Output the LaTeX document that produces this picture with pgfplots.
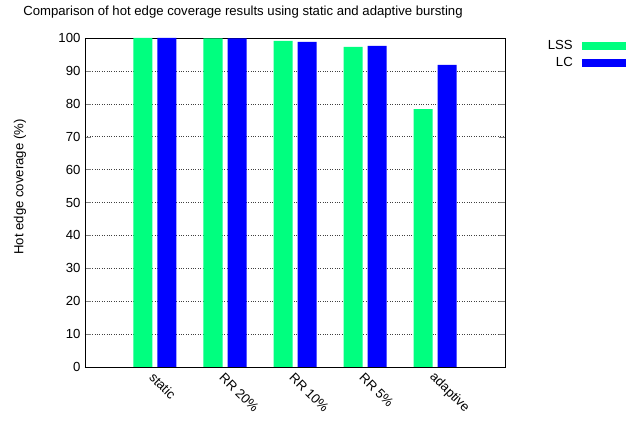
\documentclass[border=0pt]{standalone}
\usepackage{fontspec}
\setmainfont{Liberation Sans}
\usepackage{pgfplots}
\pgfplotsset{compat=1.18}
\definecolor{lssgreen}{RGB}{0,255,127}
\definecolor{lcblue}{RGB}{0,0,255}
\newcommand{\fs}{\fontsize{13.2}{15}\selectfont}
\begin{document}
\fs
\begin{tikzpicture}
\path[use as bounding box] (-85bp,-56bp) rectangle (549bp,367bp);
\begin{axis}[
  at={(0,0)}, anchor=south west,
  scale only axis, width=420bp, height=329bp,
  xmin=0, xmax=6, ymin=0, ymax=100,
  ybar=5bp, bar width=19bp,
  xtick={1,2,3,4,5},
  xticklabels={static,RR 20\%,RR 10\%,RR 5\%,adaptive},
  xticklabel style={rotate=-45, anchor=west, font=\fs, xshift=-1bp, yshift=-8bp},
  major x tick style={draw=none},
  ytick={0,10,...,100},
  yticklabel style={font=\fs},
  /pgf/number format/assume math mode=true,
  tick align=inside, major tick length=6bp,
  ymajorgrids, grid style={black!75, dash pattern=on 0.6bp off 1.8bp, line width=0.5pt},
  axis line style={black, line width=0.8pt},
  ylabel={Hot edge coverage (\%)},
  ylabel style={at={(axis description cs:-0.155,0.547)}, anchor=center, font=\fs},
  legend style={at={(1.288,1.0)}, anchor=north east, draw=none, fill=none, font=\fs, row sep=2bp, inner sep=0pt},
  legend cell align=right,
  legend plot pos=right,
  legend image code/.code={\path (0bp,0bp); \fill[#1] (7bp,-4bp) rectangle (51bp,4bp);},
]
\addplot[fill=lssgreen, draw=none] coordinates {(1,100) (2,99.9) (3,99.1) (4,97.3) (5,78.4)};
\addlegendentry{LSS}
\addplot[fill=lcblue, draw=none] coordinates {(1,100) (2,99.9) (3,98.8) (4,97.6) (5,91.8)};
\addlegendentry{LC}
\end{axis}
\node[font=\fs] at (158bp,355bp) {Comparison of hot edge coverage results using static and adaptive bursting};
\end{tikzpicture}
\end{document}
